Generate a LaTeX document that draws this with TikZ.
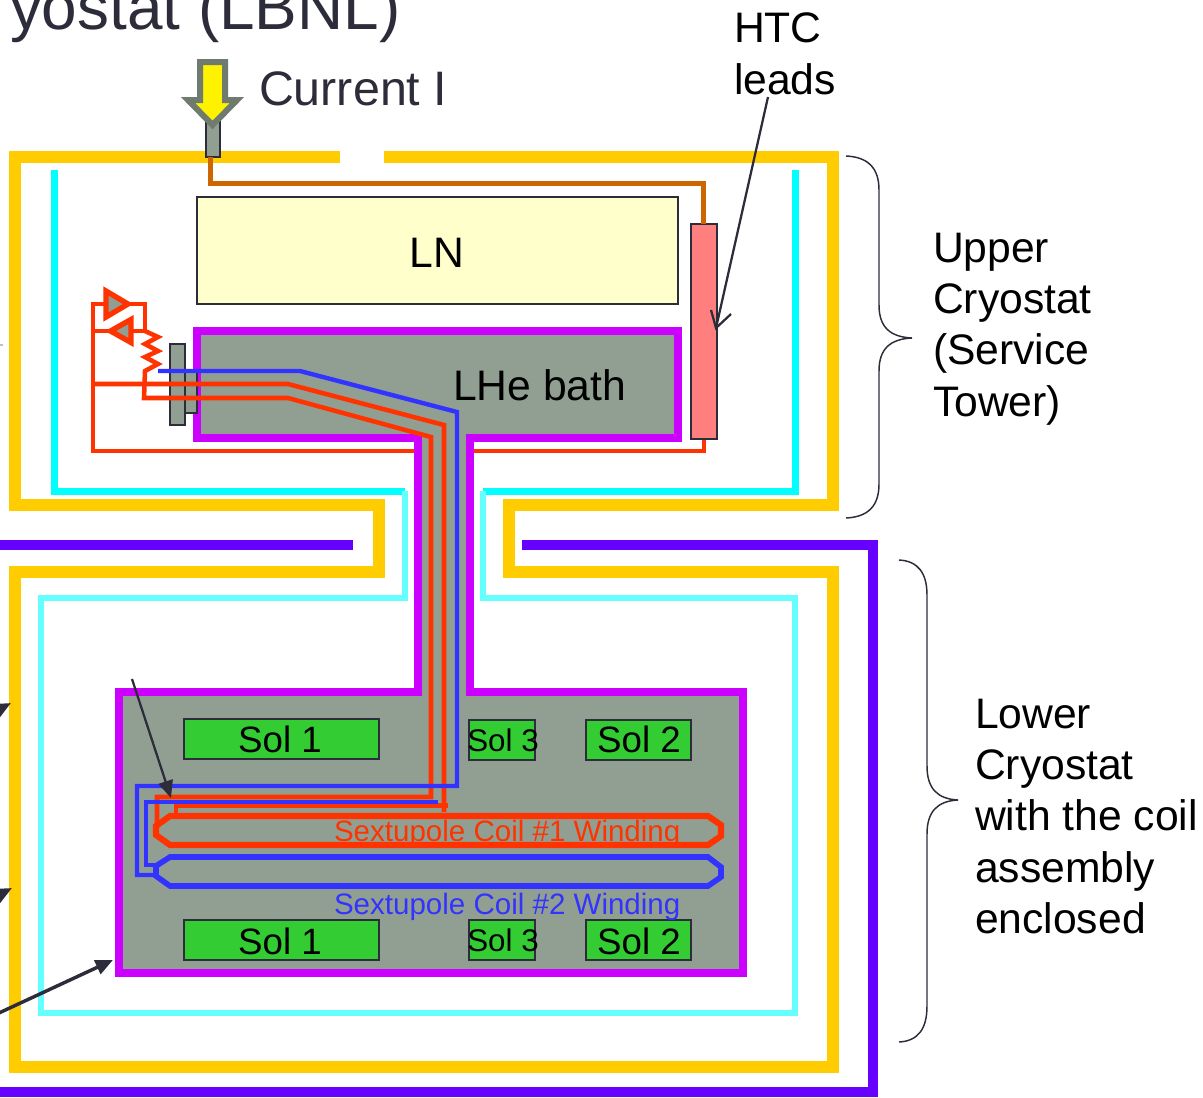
\documentclass[tikz,border=0pt]{standalone}
\usepackage{fontspec}
\setmainfont{Liberation Sans}
\usetikzlibrary{arrows.meta}
\definecolor{frameyellow}{HTML}{FFCC00}
\definecolor{cyanA}{HTML}{00FFFF}
\definecolor{cyanB}{HTML}{66FFFF}
\definecolor{violetV}{HTML}{6600FF}
\definecolor{purpleP}{HTML}{CC00FF}
\definecolor{grayG}{HTML}{919F93}
\definecolor{redR}{HTML}{FF3300}
\definecolor{blueB}{HTML}{3333FF}
\definecolor{brownB}{HTML}{CC6600}
\definecolor{darkD}{HTML}{2C2C3A}
\definecolor{arrowgray}{HTML}{6F7B6F}
\definecolor{pinkP}{HTML}{FF7F7F}
\definecolor{greenS}{HTML}{33CC33}
\definecolor{lnfill}{HTML}{FFFFCC}
\newcommand{\fs}[1]{\fontsize{#1}{38.45pt}\selectfont}
\tikzset{
  x=0.75pt,y=-0.75pt,
  yframe/.style={draw=frameyellow,line width=9pt,miter limit=10},
  cyanwall/.style={draw=cyanA,line width=5.25pt},
  cyanwallb/.style={draw=cyanB,line width=4.5pt},
  vwall/.style={draw=violetV,line width=8pt},
  pwall/.style={draw=purpleP,fill=grayG,line width=6pt},
  redwire/.style={draw=redR,line width=3.4pt},
  bluewire/.style={draw=blueB,line width=3.3pt},
  coilred/.style={draw=redR,line width=4.6pt},
  coilblue/.style={draw=blueB,line width=4.2pt},
  diode/.style={draw=redR,fill=grayG,line width=4pt,line join=miter},
  solbox/.style={draw=darkD,fill=greenS,line width=1.5pt,inner sep=0,minimum height=30pt},
  plate/.style={draw=darkD,fill=grayG,line width=1.5pt,inner sep=0},
  lbl/.style={inner sep=0,outer sep=0,text=black},
  sollbl/.style={lbl,anchor=base,font=\fs{27.5}},
  smalllbl/.style={lbl,anchor=base,font=\fs{23.5}},
  biglbl/.style={lbl,anchor=base west,font=\fs{32}},
  block/.style={lbl,anchor=north west,align=left,font=\fs{32}},
  pointer/.style={draw=darkD,line width=2.6pt,-{Triangle[length=13pt,width=11pt]}},
  brace/.style={draw=darkD,line width=1.1pt},
}
\begin{document}
\begin{tikzpicture}
\useasboundingbox (0,0) rectangle (1203,1097);
\clip (0,0) rectangle (1203,1097);

% cryostat walls
\draw[yframe] (340,157) -- (15,157) -- (15,505) -- (379,505) -- (379,572) -- (15,572) -- (15,1067) -- (833,1067) -- (833,572) -- (509,572) -- (509,505) -- (833,505) -- (833,157) -- (384,157);
\draw[cyanwall] (54,170) -- (54,491) -- (405,491);
\draw[cyanwall] (795,170) -- (795,491) -- (483,491);
\draw[cyanwallb] (405,491) -- (405,598) -- (41,598) -- (41,1013) -- (795,1013) -- (795,598) -- (483,598) -- (483,491);
\draw[vwall] (0,545) -- (353,545);
\draw[vwall] (522,545) -- (873,545) -- (873,1092) -- (0,1092);

% helium vessel
\draw[pwall] (197,331) -- (678,331) -- (678,438) -- (470,438) -- (470,692) -- (743,692) -- (743,973) -- (119,973) -- (119,692) -- (418,692) -- (418,438) -- (197,438) -- cycle;

% LN and HTC
\node[draw=darkD,fill=lnfill,line width=1.5pt,inner sep=0,minimum width=360.75pt,minimum height=80.25pt] (lnbox) at (437.5,250.5) {};
\node[draw=darkD,fill=pinkP,line width=1.5pt,inner sep=0,minimum width=19.5pt,minimum height=161.25pt] (htc) at (704,331) {};
\node[lbl,anchor=base,font=\fs{32}] (lnlabel) at (437,267) {LN};
\node[biglbl] (lhelabel) at (453,400) {LHe bath};

% current lead
\node[plate,minimum width=10.5pt,minimum height=30pt] (lead) at (212.5,137) {};
\coordinate (leadout) at (210,157);
\draw[draw=brownB,line width=3.75pt] (leadout) -- (210,183) -- (703.5,183) -- (703.5,224);
\draw[draw=arrowgray,fill=yellow,line width=4.5pt,miter limit=10] (200,62) -- (225,62) -- (225,100) -- (237,100) -- (212.5,125) -- (188,100) -- (200,100) -- cycle;

% plates on the vessel
\node[plate,minimum width=9pt,minimum height=30.75pt] (plateb) at (191,392) {};
\node[plate,minimum width=11pt,minimum height=60.75pt] (platea) at (177.5,384.5) {};

% return wire
\draw[redwire,line width=2.5pt] (htc.south) -- (704,451) -- (474,451);
\draw[redwire,line width=2.5pt] (414,451) -- (93,451) -- (93,304) -- (106,304);
\draw[redwire,line width=2.5pt] (128,304) -- (145,304) -- (145,331);
\draw[redwire,line width=2.5pt] (93,331) -- (145,331);
\draw[redwire,line join=miter] (145,331) -- (158,337) -- (145,344) -- (158,351) -- (145,357) -- (158,364) -- (145,371) -- (144,398) -- (288,398) -- (431,437) -- (431,797) -- (157,797) -- (157,827);
\draw[redwire] (93,384) -- (288,384) -- (444,425) -- (444,812);
\draw[redwire] (448,805.5) -- (176,805.5) -- (176,816);
\draw[diode] (106,291) -- (128,304) -- (106,317) -- cycle;
\draw[diode] (131,319.5) -- (110.5,331) -- (131,342.5) -- cycle;

% blue wires
\draw[bluewire] (158,371) -- (300,371) -- (457,412) -- (457,786) -- (137,786) -- (137,875) -- (156,875);
\draw[bluewire] (438,802) -- (146,802) -- (146,865) -- (156,865);

% coils
\draw[coilred] (170,816) -- (708,816) -- (721,825) -- (721,836) -- (708,845) -- (170,845) -- (156,835) -- (156,826) -- cycle;
\draw[coilblue] (170,857) -- (708,857) -- (721,867) -- (721,877) -- (708,886) -- (170,886) -- (156,876) -- (156,866) -- cycle;

% solenoids
\node[solbox,minimum width=146.25pt] (s1a) at (281.5,739) {};
\node[solbox,minimum width=146.25pt] (s1b) at (281.5,940) {};
\node[solbox,minimum width=49.5pt] (s3a) at (502,739.5) {};
\node[solbox,minimum width=49.5pt] (s3b) at (502,939.5) {};
\node[solbox,minimum width=78.75pt] (s2a) at (638.5,739.5) {};
\node[solbox,minimum width=78.75pt] (s2b) at (638.5,939.5) {};
\node[sollbl] (t1a) at (280,752) {Sol 1};
\node[sollbl] (t1b) at (280,954) {Sol 1};
\node[smalllbl] (t3a) at (503,751) {Sol 3};
\node[smalllbl] (t3b) at (503,951) {Sol 3};
\node[sollbl] (t2a) at (639,752) {Sol 2};
\node[sollbl] (t2b) at (639,954) {Sol 2};
\node[lbl,anchor=base west,font=\fs{22.15},text=redR] (c1) at (334,841) {Sextupole Coil \#1 Winding};
\node[lbl,anchor=base west,font=\fs{22.15},text=blueB] (c2) at (334,914) {Sextupole Coil \#2 Winding};

% titles and labels
\node[lbl,anchor=base west,font=\fs{47.9},text=darkD] (title) at (10,29) {yostat (LBNL)};
\node[lbl,anchor=base west,font=\fs{36.3},text=darkD] (current) at (259,105.5) {Current I};
\node[block] (htclabel) at (734,13) {HTC\\leads};
\node[block] (upper) at (933,233) {Upper\\Cryostat\\(Service\\Tower)};
\node[block] (lower) at (975,699) {Lower\\Cryostat\\with the coil\\assembly\\enclosed};

% pointers
\coordinate (p1) at (768,97);
\coordinate (p1t) at (716,328);
\draw[draw=darkD,line width=1.7pt] (p1) -- (p1t);
\draw[draw=darkD,line width=1.7pt] (711,310) -- (p1t) -- (731,314);
\coordinate (p2) at (132,679);
\coordinate (p2t) at (171,798);
\draw[pointer,line width=1.7pt] (p2) -- (p2t);
\coordinate (p3) at (-14,1019);
\coordinate (p3t) at (113,960);
\draw[pointer] (p3) -- (p3t);
\coordinate (p4) at (-40,730);
\coordinate (p4t) at (11,703);
\draw[pointer] (p4) -- (p4t);
\coordinate (p5) at (-40,915);
\coordinate (p5t) at (12,888);
\draw[pointer] (p5) -- (p5t);

% braces
\draw[brace] (846,156) .. controls (868,157) and (879,168) .. (879,190) -- (879,305) .. controls (879,327) and (890,337) .. (912,338) .. controls (890,339) and (879,349) .. (879,371) -- (879,484) .. controls (879,506) and (868,517) .. (846,518);
\draw[brace] (899,560) .. controls (918,561) and (927,573) .. (927,595) -- (927,766) .. controls (927,788) and (937,799) .. (958,800) .. controls (937,801) and (927,812) .. (927,834) -- (927,1006) .. controls (927,1029) and (918,1041) .. (899,1042);
\draw[draw=gray!50,line width=1pt] (0,345) -- (3,345);
\end{tikzpicture}
\end{document}
